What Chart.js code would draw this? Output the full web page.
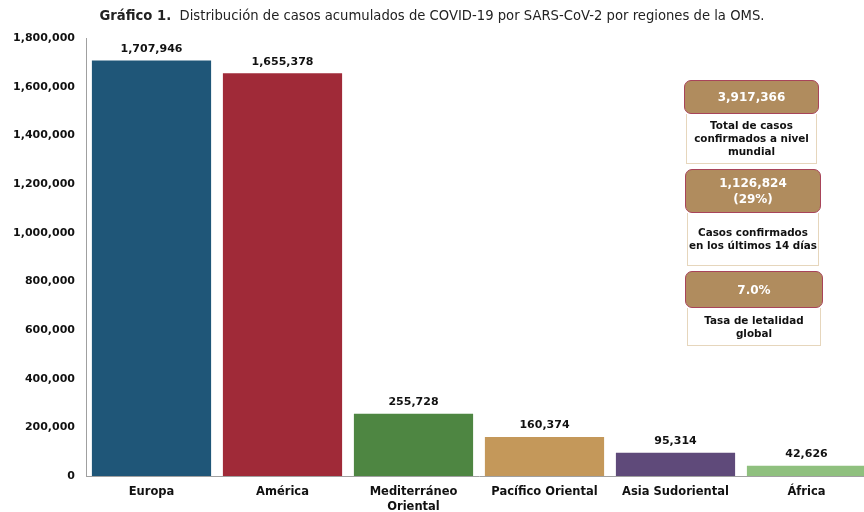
<!DOCTYPE html>
<html>
<head>
<meta charset="utf-8">
<script src="https://cdn.jsdelivr.net/npm/chart.js@4"></script>
<style>
    body { margin: 0; width: 864px; height: 512px; overflow: hidden; background: #fff; font-family: "DejaVu Sans", sans-serif; }
    #wrap { position: absolute; left: 0; top: 0; width: 880px; height: 512px; }
    #title { position: absolute; left: 0; top: 8px; width: 864px; text-align: center; font-size: 13.2px; color: #222; padding-left: 0; }
    .box { position: absolute; }
    .head { background: #b08c5e; border: 1.5px solid #a8445a; border-radius: 7px; color: #fff; font-weight: bold; font-size: 12px; text-align: center; display: flex; align-items: center; justify-content: center; line-height: 16px; }
    .body { background: #fff; border: 1px solid #e6d6bc; border-top: none; color: #111; font-weight: bold; font-size: 10.4px; text-align: center; display: flex; align-items: center; justify-content: center; line-height: 13px; margin: 0 2px; }
</style>
</head>
<body>
<div id="wrap"><canvas id="bar-chart"></canvas></div>
<div id="title"><b>Gráfico 1.</b>&nbsp; Distribución de casos acumulados de COVID-19 por SARS-CoV-2 por regiones de la OMS.</div>

<div class="box" style="left:684px; top:80px; width:135px;">
    <div class="head" style="height:32px;">3,917,366</div>
    <div class="body" style="height:49px;">Total de casos<br>confirmados a nivel<br>mundial</div>
</div>
<div class="box" style="left:685px; top:169px; width:136px;">
    <div class="head" style="height:42px;">1,126,824<br>(29%)</div>
    <div class="body" style="height:52px;">Casos confirmados<br>en los últimos 14 días</div>
</div>
<div class="box" style="left:685px; top:271px; width:138px;">
    <div class="head" style="height:35px;">7.0%</div>
    <div class="body" style="height:37px;">Tasa de letalidad<br>global</div>
</div>

<script>
const regions = ['Europa', 'América', ['Mediterráneo', 'Oriental'], 'Pacífico Oriental', 'Asia Sudoriental', 'África'];
const cases = [1707946, 1655378, 255728, 160374, 95314, 42626];
const barColors = ['#1f5678', '#a02a38', '#4e8642', '#c4985a', '#5f4a7a', '#8fc07e'];
const yTicks = [0, 200000, 400000, 600000, 800000, 1000000, 1200000, 1400000, 1600000, 1800000];

const fmt = (v) => v.toLocaleString('en-US');

const valueLabels = {
    id: 'valueLabels',
    afterDatasetsDraw(chart) {
        const ctx = chart.ctx;
        const meta = chart.getDatasetMeta(0);
        ctx.save();
        ctx.font = 'bold 11px "DejaVu Sans"';
        ctx.fillStyle = '#111';
        ctx.textAlign = 'center';
        ctx.textBaseline = 'bottom';
        meta.data.forEach((bar, i) => {
            ctx.fillText(fmt(cases[i]), bar.x, bar.y - 6);
        });
        ctx.restore();
    }
};

const ctx = document.getElementById('bar-chart');

new Chart(ctx, {
    type: 'bar',
    data: {
        labels: regions,
        datasets: [{
            data: cases,
            backgroundColor: barColors,
            barPercentage: 0.91,
            categoryPercentage: 1
        }]
    },
    options: {
        responsive: true,
        maintainAspectRatio: false,
        animation: false,
        layout: { padding: { top: 38, right: 8, left: 0, bottom: 0 } },
        plugins: {
            legend: { display: false },
            tooltip: { enabled: false }
        },
        scales: {
            x: {
                grid: { display: false, drawTicks: false },
                border: { display: true, color: '#a0a0a0', width: 1 },
                ticks: {
                    color: '#111',
                    font: { family: 'DejaVu Sans', weight: 'bold', size: 11.5, lineHeight: 1.3 },
                    padding: 9,
                    maxRotation: 0,
                    autoSkip: false
                },
                afterFit(scale) { scale.height = 36; }
            },
            y: {
                min: 0,
                max: 1800000,
                grid: { display: false, drawTicks: false },
                border: { display: true, color: '#a0a0a0', width: 1 },
                afterBuildTicks(scale) { scale.ticks = yTicks.map(v => ({ value: v })); },
                ticks: {
                    color: '#111',
                    font: { family: 'DejaVu Sans', weight: 'bold', size: 11 },
                    padding: 11,
                    callback: (v) => fmt(v)
                },
                afterFit(scale) { scale.width = 86; }
            }
        }
    },
    plugins: [valueLabels]
});
</script>
</body>
</html>
